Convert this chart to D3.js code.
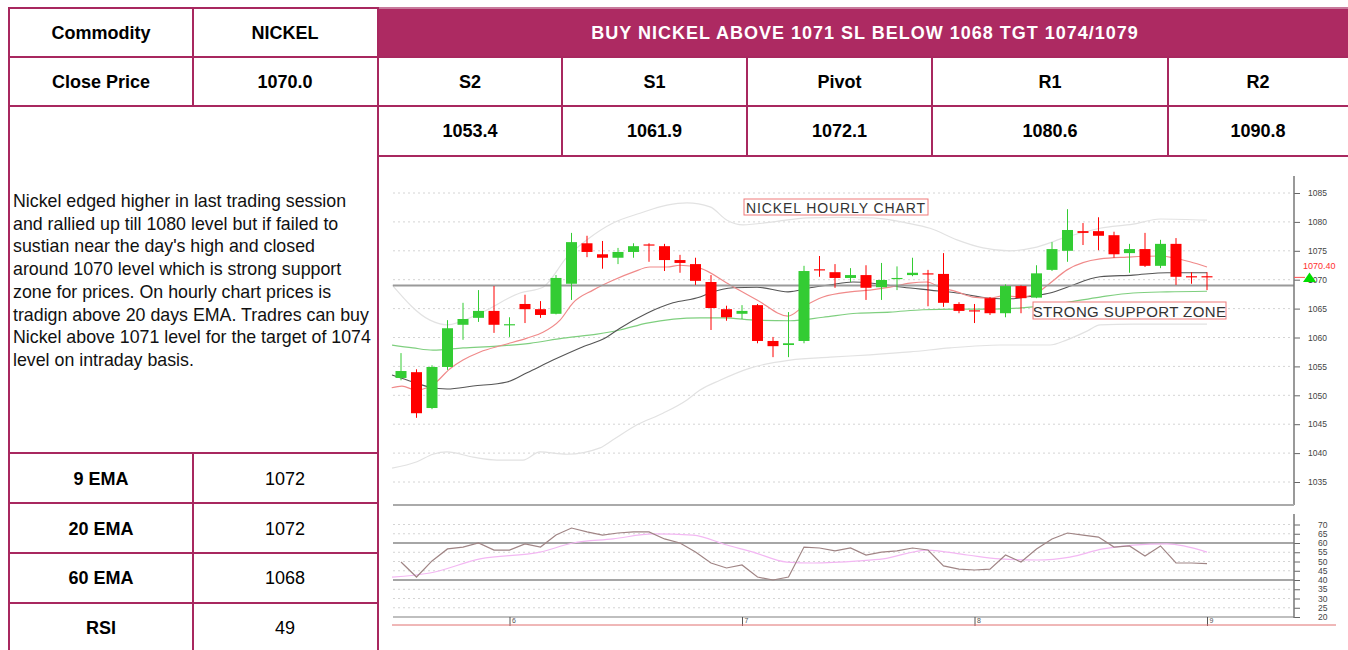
<!DOCTYPE html>
<html>
<head>
<meta charset="utf-8">
<script src="https://cdn.jsdelivr.net/npm/d3@7"></script>
<style>
  body { margin: 0; background: #fff; font-family: Arial, "Liberation Sans", sans-serif; }
</style>
</head>
<body>
<svg id="chart" width="1348" height="650"></svg>
<script>
// ---- table data ----
var headline = "BUY NICKEL ABOVE 1071 SL BELOW 1068 TGT 1074/1079";
var levelNames = ["S2", "S1", "Pivot", "R1", "R2"];
var levelValues = ["1053.4", "1061.9", "1072.1", "1080.6", "1090.8"];
var emaNames = ["9 EMA", "20 EMA", "60 EMA", "RSI"];
var emaValues = ["1072", "1072", "1068", "49"];
var commentary = [
  "Nickel edged higher in last trading session",
  "and rallied up till 1080 level but if failed to",
  "sustian near the day's high and closed",
  "around 1070 level which is strong support",
  "zone for prices. On hourly chart prices is",
  "tradign above 20 days EMA. Tradres can buy",
  "Nickel above 1071 level for the target of 1074",
  "level on intraday basis."
];

// ---- hourly candles ----
var opens  = [1053.0,1054.0,1047.8,1054.9,1062.2,1063.4,1064.6,1062.1,1065.8,1064.9,1064.1,1069.3,1076.3,1074.4,1073.8,1074.8,1076.1,1075.8,1073.4,1072.7,1069.6,1064.9,1064.1,1065.6,1059.4,1058.7,1059.4,1071.8,1071.3,1070.3,1070.8,1068.7,1070.1,1070.8,1071.1,1071.0,1065.8,1064.7,1066.8,1064.2,1068.9,1066.9,1071.7,1075.0,1078.4,1078.4,1077.7,1074.6,1075.3,1072.4,1076.2,1070.6,1070.6];
var highs  = [1057.3,1054.5,1055.2,1063.0,1066.0,1068.2,1068.9,1063.5,1067.4,1066.3,1070.8,1078.1,1077.6,1076.7,1075.5,1076.3,1076.3,1076.2,1074.3,1073.8,1070.8,1065.5,1065.6,1065.8,1060.1,1064.4,1072.4,1074.1,1072.7,1072.0,1072.5,1072.9,1072.3,1073.8,1071.7,1074.6,1066.1,1065.8,1067.0,1069.2,1069.0,1072.5,1076.5,1082.2,1079.8,1080.8,1078.3,1076.2,1078.1,1076.9,1077.2,1071.3,1071.3];
var lows   = [1052.6,1046.1,1047.6,1054.4,1059.6,1062.7,1060.8,1060.1,1062.5,1063.4,1064.0,1066.5,1073.9,1071.9,1072.7,1073.8,1073.1,1071.5,1071.2,1069.1,1061.3,1062.9,1063.2,1059.0,1056.6,1056.6,1059.0,1070.5,1068.6,1069.6,1066.5,1066.5,1068.2,1070.6,1065.4,1065.3,1064.2,1062.5,1063.9,1063.5,1064.2,1066.8,1071.5,1073.1,1076.0,1075.1,1073.8,1071.2,1072.2,1072.0,1069.1,1069.3,1068.2];
var closes = [1054.2,1046.9,1054.9,1061.6,1063.2,1064.6,1062.2,1062.3,1064.9,1063.9,1070.3,1076.5,1074.8,1073.8,1074.8,1075.8,1075.9,1073.4,1072.9,1069.8,1065.1,1063.5,1064.6,1059.4,1058.5,1059.0,1071.5,1071.6,1070.3,1070.8,1068.6,1069.95,1070.3,1071.2,1070.9,1066.0,1064.6,1064.5,1064.2,1068.9,1066.8,1071.1,1075.3,1078.6,1078.1,1077.6,1074.4,1075.3,1072.4,1076.2,1070.5,1070.4,1070.4];

// indicator lines: [candle index, value]
var ema9 = [[-0.6,1051.3],[0.06,1051.6],[0.97,1050.9],[1.68,1051.3],[2.19,1052.1],[3.16,1054.6],[4.0,1056.1],[5.1,1057.5],[6.58,1058.7],[8.13,1059.9],[9.16,1060.9],[10.26,1063.0],[11.1,1066.0],[12.39,1068.2],[13.68,1069.9],[14.97,1071.3],[16.06,1072.2],[17.16,1072.2],[18.0,1072.5],[19.29,1072.0],[21.23,1069.1],[22.97,1066.5],[24.97,1063.7],[25.94,1065.3],[27.23,1067.0],[28.97,1067.9],[30.26,1068.2],[31.55,1068.7],[32.84,1069.4],[33.94,1069.6],[34.77,1068.7],[35.87,1067.9],[36.9,1067.0],[38.0,1066.8],[38.84,1067.2],[39.94,1067.0],[41.03,1067.7],[41.87,1069.4],[42.97,1071.7],[45.1,1073.6],[46.84,1073.9],[48.97,1074.1],[49.81,1073.8],[50.9,1073.1],[52.0,1072.2]];
var ema20 = [[-0.58,1053.5],[0.77,1052.3],[1.87,1051.4],[2.97,1051.1],[4.65,1051.6],[6.84,1052.3],[8.13,1053.9],[9.81,1056.1],[11.55,1058.2],[13.29,1060.1],[14.13,1061.6],[15.87,1064.2],[17.55,1066.0],[19.29,1067.0],[19.94,1067.7],[21.42,1068.6],[22.97,1068.7],[24.97,1067.9],[26.39,1068.6],[27.68,1069.1],[29.16,1069.6],[30.71,1069.3],[32.39,1068.7],[34.13,1068.2],[35.87,1067.7],[38.0,1066.8],[39.29,1066.7],[40.77,1067.2],[41.87,1067.7],[42.97,1068.7],[45.1,1070.5],[47.23,1070.8],[49.42,1071.2],[52.0,1071.2]];
var ema60 = [[-0.58,1058.7],[0.77,1058.2],[2.06,1057.8],[4.0,1058.2],[6.19,1058.5],[8.32,1059.0],[10.45,1059.9],[12.65,1060.6],[14.13,1061.3],[15.87,1062.5],[19.29,1063.4],[20.77,1063.4],[22.97,1063.0],[25.1,1062.9],[27.23,1063.5],[29.42,1064.2],[31.55,1064.4],[33.68,1064.8],[35.87,1064.9],[38.0,1064.9],[40.77,1065.3],[42.97,1066.1],[45.1,1067.0],[47.23,1067.7],[49.42,1067.9],[52.0,1068.0]];
var bandUpper = [[-0.58,1069.1],[1.87,1063.0],[2.97,1062.2],[5.1,1064.2],[7.68,1067.7],[9.16,1068.7],[10.71,1073.9],[12.0,1076.9],[13.68,1079.8],[15.42,1081.5],[17.16,1082.9],[18.45,1083.3],[19.94,1082.6],[21.03,1080.3],[22.06,1079.5],[24.0,1080.0],[26.19,1080.7],[28.32,1080.8],[30.45,1080.7],[32.65,1079.8],[34.13,1078.9],[35.87,1076.9],[37.55,1075.5],[39.29,1075.0],[40.77,1075.5],[42.97,1077.4],[45.1,1078.9],[47.23,1079.6],[48.97,1080.5],[52.0,1080.3]];
var bandLower = [[-0.58,1037.4],[1.03,1038.5],[2.06,1039.8],[2.97,1040.2],[4.65,1039.3],[6.19,1038.8],[7.87,1038.8],[8.97,1040.2],[10.71,1039.8],[12.84,1040.9],[13.68,1042.3],[15.23,1044.9],[16.9,1046.9],[18.45,1049.2],[19.29,1050.9],[20.58,1052.6],[22.52,1054.7],[25.1,1056.1],[27.68,1056.6],[30.26,1057.0],[32.84,1057.5],[35.42,1058.2],[38.65,1058.7],[41.87,1058.7],[42.97,1059.6],[44.26,1061.1],[45.1,1062.2],[47.23,1062.3],[52.0,1062.3]];

// RSI, one per candle, plus its signal line
var rsi = [49.7,41.6,50.3,56.8,57.8,60.0,56.2,56.2,59.5,57.8,64.3,68.1,66.0,64.3,65.4,66.0,66.0,62.2,60.0,55.1,49.2,46.5,48.1,41.6,40.0,41.6,57.8,57.3,55.7,57.3,53.5,55.1,55.7,57.3,56.2,47.6,45.9,45.4,45.9,53.5,49.7,56.8,62.2,65.4,64.3,63.2,57.8,58.4,53.0,58.4,49.2,49.2,48.9];
var rsiSignal = [[-0.58,41.6],[1.87,43.8],[5.1,51.4],[8.97,55.1],[11.1,60.0],[13.68,62.2],[16.26,64.9],[18.84,64.3],[21.03,58.9],[22.71,55.1],[24.9,49.7],[26.58,49.2],[29.55,50.3],[31.1,51.4],[33.94,56.2],[36.52,53.5],[38.65,51.4],[41.03,50.8],[43.16,52.4],[45.29,56.8],[47.23,58.9],[49.42,59.5],[52.0,55.1]];

var priceTicks = d3.range(1035, 1086, 5);
var rsiTicks = d3.range(20, 71, 5);
var dayIdx = [7, 22, 37, 52];
var dayLabels = ["6", "7", "8", "9"];
var supportLevel = 1069;
var lastPrice = 1070.4;

var svg = d3.select("#chart");
var border = "#a8285f";

// ---------- table ----------
svg.append("rect").attr("x", 378).attr("y", 8).attr("width", 970).attr("height", 49).attr("fill", "#ad2a62");
svg.append("line").attr("x1", 378).attr("x2", 1348).attr("y1", 8).attr("y2", 8).attr("stroke", "#c77a9c").attr("stroke-width", 2);

function hline(x1, x2, yy) {
  svg.append("line").attr("x1", x1).attr("x2", x2).attr("y1", yy).attr("y2", yy)
    .attr("stroke", border).attr("stroke-width", 2);
}
function vline(xx, y1, y2) {
  svg.append("line").attr("x1", xx).attr("x2", xx).attr("y1", y1).attr("y2", y2)
    .attr("stroke", border).attr("stroke-width", 2);
}
function cellText(str, cx, cy, bold, color, size) {
  svg.append("text").attr("x", cx).attr("y", cy).attr("text-anchor", "middle")
    .attr("dominant-baseline", "central")
    .style("font-size", (size || 18) + "px").style("font-weight", bold ? "bold" : "normal")
    .attr("fill", color || "#000").text(str);
}

hline(8, 378, 8);
hline(8, 1348, 57);
hline(8, 1348, 106);
hline(378, 1348, 156);
[453, 503, 553, 603].forEach(function(yy) { hline(8, 378, yy); });
vline(9, 7, 650);
vline(193, 7, 107);
vline(193, 452, 650);
vline(378, 7, 650);
var levelEdges = [378, 562, 747, 932, 1168, 1348];
levelEdges.slice(1, 5).forEach(function(xx) { vline(xx, 57, 156); });

cellText("Commodity", 101, 33, true);
cellText("NICKEL", 285, 33, true);
svg.append("text").attr("x", 865).attr("y", 33).attr("text-anchor", "middle")
  .attr("dominant-baseline", "central").style("font-size", "18px").style("font-weight", "bold")
  .style("letter-spacing", "1px").attr("fill", "#fff").text(headline);
cellText("Close Price", 101, 82, true);
cellText("1070.0", 285, 82, true);
levelNames.forEach(function(n, i) {
  var cx = (levelEdges[i] + levelEdges[i + 1]) / 2;
  cellText(n, cx, 82, true);
  cellText(levelValues[i], cx, 131, true);
});
emaNames.forEach(function(n, i) {
  cellText(n, 101, 479 + i * 49.7, true);
  cellText(emaValues[i], 285, 479 + i * 49.7, false);
});
svg.append("g").selectAll("text").data(commentary).enter().append("text")
  .attr("x", 13).attr("y", function(d, i) { return 207 + i * 22.7; })
  .style("font-size", "17.8px").attr("fill", "#111").text(function(d) { return d; });

// ---------- price chart ----------
var x = d3.scaleLinear().domain([0, 52]).range([401, 1207]);
var y = d3.scaleLinear().domain([1035, 1085]).range([482, 193]);
var yR = d3.scaleLinear().domain([20, 70]).range([617, 524.5]);

svg.append("g").selectAll("line").data(priceTicks).enter().append("line")
  .attr("x1", 393).attr("x2", 1292).attr("y1", d => y(d)).attr("y2", d => y(d))
  .attr("stroke", "#d4d4d4").attr("stroke-dasharray", "2,3");

var line = d3.line().x(d => x(d[0])).y(d => y(d[1])).curve(d3.curveMonotoneX);
function drawLine(data, color, w) {
  svg.append("path").datum(data).attr("d", line).attr("fill", "none")
    .attr("stroke", color).attr("stroke-width", w);
}
drawLine(bandUpper, "#e2e2e2", 1.2);
drawLine(bandLower, "#e2e2e2", 1.2);
drawLine(ema60, "#7fcf7f", 1.2);
drawLine(ema20, "#555", 1.1);
drawLine(ema9, "#f08a8a", 1.2);

// support line
svg.append("line").attr("x1", 393).attr("x2", 1294).attr("y1", y(supportLevel)).attr("y2", y(supportLevel))
  .attr("stroke", "#9a9a9a").attr("stroke-width", 2);

var candles = d3.range(opens.length).map(function(i) {
  return {i: i, o: opens[i], h: highs[i], l: lows[i], c: closes[i]};
});
var cg = svg.append("g").selectAll("g").data(candles).enter().append("g");
function candleColor(d) { return d.c >= d.o ? "#33cc33" : "#ff0000"; }
cg.append("line")
  .attr("x1", d => x(d.i)).attr("x2", d => x(d.i))
  .attr("y1", d => y(d.h)).attr("y2", d => y(d.l))
  .attr("stroke", candleColor).attr("stroke-width", 1);
cg.append("rect")
  .attr("x", d => x(d.i) - 5.5).attr("width", 11)
  .attr("y", d => y(Math.max(d.o, d.c)))
  .attr("height", d => Math.max(1, Math.abs(y(d.o) - y(d.c))))
  .attr("fill", candleColor);

// annotations
function note(str, bx, by, bw, bh, fs, ls) {
  svg.append("rect").attr("x", bx).attr("y", by).attr("width", bw).attr("height", bh)
    .attr("fill", "#fff").attr("stroke", "#f07a7a").attr("stroke-width", 1);
  svg.append("text").attr("x", bx + bw / 2).attr("y", by + bh / 2 + 0.5).attr("text-anchor", "middle")
    .attr("dominant-baseline", "central").style("font-size", fs + "px").style("letter-spacing", ls + "px")
    .attr("fill", "#333").text(str);
}
note("NICKEL HOURLY CHART", 744, 199, 184, 16, 14, 0.9);
note("STRONG SUPPORT ZONE", 1033, 302, 193, 17, 15, 0.4);

// right price axis
var yAxis = svg.append("g").attr("transform", "translate(1294,0)")
  .call(d3.axisRight(y).tickValues(priceTicks).tickFormat(d3.format("d")).tickSize(6).tickPadding(8));
yAxis.select(".domain").remove();
yAxis.selectAll("line").attr("stroke", "#666");
yAxis.selectAll("text").style("font-size", "8.5px").attr("fill", "#444");
svg.append("line").attr("x1", 1294).attr("x2", 1294).attr("y1", 176).attr("y2", 505)
  .attr("stroke", "#777").attr("stroke-width", 1.5);

// last price marker
svg.append("line").attr("x1", 1294).attr("x2", 1305).attr("y1", y(lastPrice)).attr("y2", y(lastPrice))
  .attr("stroke", "#ff5050").attr("stroke-width", 1);
svg.append("path").attr("d", "M1309.5," + (y(lastPrice) - 5) + " L1316," + (y(lastPrice) + 4.5) + " L1303," + (y(lastPrice) + 4.5) + " Z")
  .attr("fill", "#00dd00");
svg.append("text").attr("x", 1303).attr("y", y(lastPrice) - 8).style("font-size", "9px")
  .attr("fill", "#ff3030").text(lastPrice.toFixed(2));

// panel separator
svg.append("line").attr("x1", 393).attr("x2", 1294).attr("y1", 505).attr("y2", 505)
  .attr("stroke", "#aaa").attr("stroke-width", 2);

// ---------- RSI panel ----------
svg.append("g").selectAll("line").data(rsiTicks.filter(d => d != 40 && d != 60 && d != 20)).enter().append("line")
  .attr("x1", 393).attr("x2", 1292).attr("y1", d => yR(d)).attr("y2", d => yR(d))
  .attr("stroke", "#d4d4d4").attr("stroke-dasharray", "2,3");
[40, 60].forEach(function(v) {
  svg.append("line").attr("x1", 393).attr("x2", 1294).attr("y1", yR(v)).attr("y2", yR(v))
    .attr("stroke", "#888").attr("stroke-width", 1.5);
});
svg.append("line").attr("x1", 393).attr("x2", 1294).attr("y1", 617).attr("y2", 617)
  .attr("stroke", "#aaa").attr("stroke-width", 1.5);

var rsiLine = d3.line().x(d => x(d[0])).y(d => yR(d[1]));
svg.append("path").datum(rsiSignal).attr("d", rsiLine.curve(d3.curveMonotoneX)).attr("fill", "none")
  .attr("stroke", "#f3b8f3").attr("stroke-width", 1.2);
svg.append("path").datum(rsi.map((v, i) => [i, v])).attr("d", d3.line().x(d => x(d[0])).y(d => yR(d[1])))
  .attr("fill", "none").attr("stroke", "#a08585").attr("stroke-width", 1.2);

var rAxis = svg.append("g").attr("transform", "translate(1294,0)")
  .call(d3.axisRight(yR).tickValues(rsiTicks).tickSize(6).tickPadding(18));
rAxis.select(".domain").remove();
rAxis.selectAll("line").attr("stroke", "#666");
rAxis.selectAll("text").style("font-size", "8.5px").attr("fill", "#444");
svg.append("line").attr("x1", 1294).attr("x2", 1294).attr("y1", 514).attr("y2", 618)
  .attr("stroke", "#777").attr("stroke-width", 1.5);

// day axis
var xAxis = svg.append("g").attr("transform", "translate(0,617)")
  .call(d3.axisBottom(x).tickValues(dayIdx).tickFormat((d, i) => dayLabels[i]).tickSize(9).tickPadding(-8));
xAxis.select(".domain").remove();
xAxis.selectAll("line").attr("stroke", "#555");
xAxis.selectAll("text").attr("text-anchor", "start").attr("dx", 2).style("font-size", "7px").attr("fill", "#555");
svg.append("line").attr("x1", 392).attr("x2", 1336).attr("y1", 625).attr("y2", 625)
  .attr("stroke", "#e07070").attr("stroke-width", 1);
</script>
</body>
</html>
